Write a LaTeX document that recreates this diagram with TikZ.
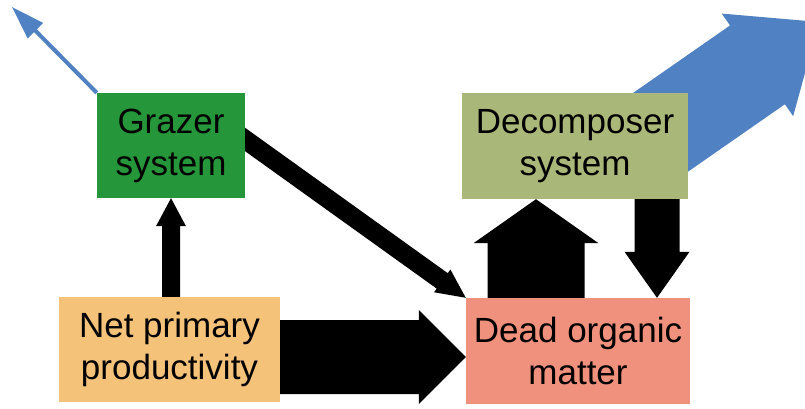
\documentclass[tikz,border=0pt]{standalone}
\usepackage{fontspec}
\setmainfont{Liberation Sans}
\usetikzlibrary{calc,backgrounds}
\definecolor{grazerc}{HTML}{25973A}
\definecolor{decompc}{HTML}{A9B878}
\definecolor{nppc}{HTML}{F5C27A}
\definecolor{domc}{HTML}{EF917C}
\definecolor{bluec}{HTML}{4F81C3}
% block arrow: #1 start coord, #2 tip coord, #3 shaft width, #4 head width, #5 head length, #6 colour
\newcommand\blockarrow[6]{%
  \path let \p1=($(#2)-(#1)$) in \pgfextra{%
    \pgfmathsetmacro\baAngL{atan2(\y1,\x1)}%
    \pgfmathsetmacro\baLenL{veclen(\x1,\y1)}%
    \xdef\baAng{\baAngL}\xdef\baLen{\baLenL}};
  \pgfmathsetmacro\baNeck{\baLen-#5}%
  \pgfmathsetmacro\baS{#3/2}%
  \pgfmathsetmacro\baH{#4/2}%
  \fill[#6,shift={(#1)},rotate=\baAng]
    (0pt,-\baS pt) -- (\baNeck pt,-\baS pt) -- (\baNeck pt,-\baH pt) --
    (\baLen pt,0pt) -- (\baNeck pt,\baH pt) -- (\baNeck pt,\baS pt) --
    (0pt,\baS pt) -- cycle;
}
\begin{document}
\begin{tikzpicture}[x=1pt,y=1pt,
  box/.style={align=center,inner sep=0pt,
    font=\fontsize{35}{42}\selectfont,text=black}]
\useasboundingbox (0,0) rectangle (805,408);

\node[box,fill=grazerc,minimum width=148pt,minimum height=105pt] (grazer) at (171,262.5) {Grazer\\system};
\node[box,fill=decompc,minimum width=226pt,minimum height=106pt] (decomp) at (575,262) {Decomposer\\system};
\node[box,fill=nppc,minimum width=221pt,minimum height=105pt] (npp) at (169.5,58.5) {Net primary\\productivity};
\node[box,fill=domc,minimum width=224pt,minimum height=106pt] (dom) at (578,57) {Dead organic\\matter};

% connector end points
\coordinate (g1) at (grazer.south);
\coordinate (n1) at (npp.north -| g1);
\coordinate (g2) at ($(grazer.center)+(49,24)$);
\coordinate (d2) at (dom.north west);
\coordinate (n3) at ($(npp.east)+(0,-7.5)$);
\coordinate (d3) at (n3 -| dom.west);
\coordinate (d4) at ($(dom.north)+(-42,0)$);
\coordinate (c4) at (d4 |- decomp.south);
\coordinate (c5) at ($(decomp.south)+(82,0)$);
\coordinate (d5) at (c5 |- dom.north);
\coordinate (g6) at (grazer.north west);
\coordinate (bt6) at (12,401);
\coordinate (c7) at ($(decomp.center)+(63,-2)$);
\coordinate (bt7) at (819,386);

\begin{pgfonlayer}{background}
\blockarrow{g6}{bt6}{4}{22}{33}{bluec}
\blockarrow{c7}{bt7}{96}{125}{75}{bluec}
\blockarrow{n1}{g1}{18}{30}{28}{black}
\blockarrow{g2}{d2}{19}{28}{29}{black}
\blockarrow{n3}{d3}{74}{94}{47}{black}
\blockarrow{d4}{c4}{97}{125}{44}{black}
\blockarrow{c5}{d5}{45}{65}{46}{black}
\end{pgfonlayer}
\end{tikzpicture}
\end{document}
